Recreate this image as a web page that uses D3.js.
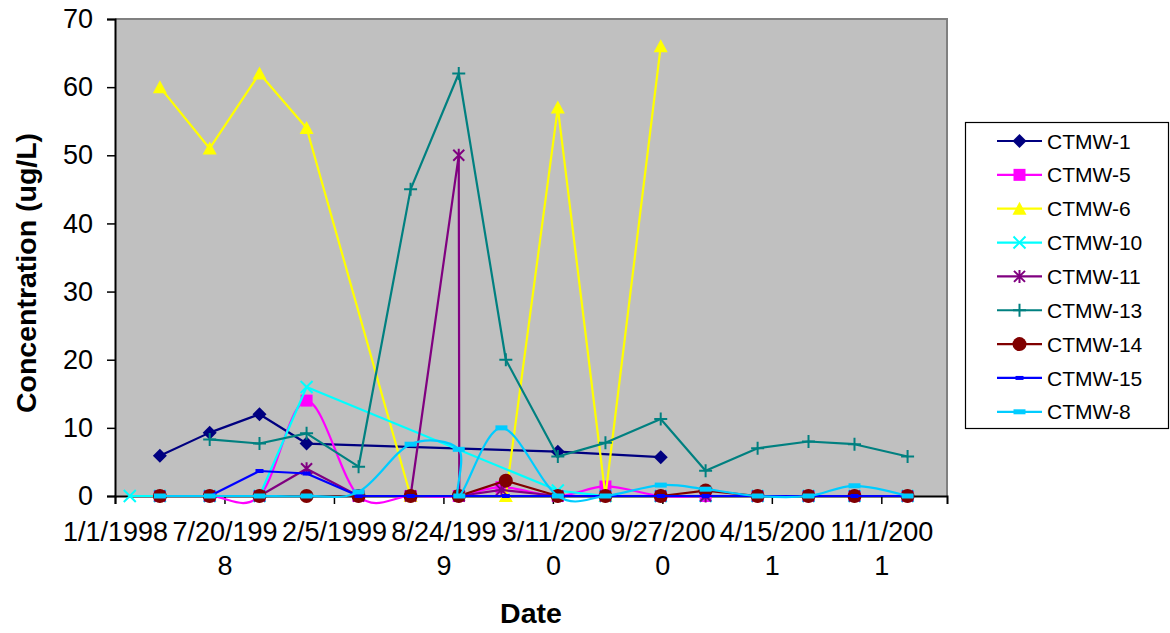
<!DOCTYPE html>
<html><head><meta charset="utf-8">
<script src="https://cdn.jsdelivr.net/npm/d3@7/dist/d3.min.js"></script>
<style>
body{margin:0;background:#fff}
text{font-family:Arial,"Liberation Sans",sans-serif;fill:#000}
</style>
</head><body>
<svg id="chart" width="1170" height="633"></svg>
<script>
// ---------------- data ----------------
const sampleDates = ["1998-01-28","1998-03-24","1998-06-23","1998-09-22","1998-12-17","1999-03-22","1999-06-25","1999-09-21","1999-09-22","1999-12-08","1999-12-16","2000-03-20","2000-06-15","2000-09-24","2000-12-15","2001-03-20","2001-06-21","2001-09-13","2001-12-19"];
const n = null;
const ctmw1  = [n, 5.9, 9.3, 12.0, 7.7, n, n, n, n, n, n, 6.5, n, 5.7, n, n, n, n, n];
const ctmw5  = [n, 0, 0, 0, 14.0, 0, 0, 0, n, 1.3, n, 0, 1.4, 0, 0, 0, 0, 0, 0];
const ctmw6  = [n, 60, 51, 62, 54, n, 0, n, n, n, 0, 57, 0, 66, n, n, n, n, n];
const ctmw10 = [0, 0, 0, 0, 16, n, n, n, n, n, n, 0.8, 0, 0, 0, 0, 0, 0, 0];
const ctmw11 = [n, 0, 0, 0, 4.0, 0, 0, 50, 0, 0.9, n, 0, 0, 0, 0, 0, 0, 0, 0];
const ctmw13 = [n, n, 8.3, 7.7, 9.2, 4.3, 45, 62, n, n, 20, 5.8, 7.8, 11.3, 3.7, 7.0, 8.0, 7.6, 5.8];
const ctmw14 = [n, 0, 0, 0, 0, 0, 0, 0, n, n, 2.25, 0, 0, 0, 0.8, 0, 0, 0, 0];
const ctmw15 = [n, 0, 0, 3.67, 3.3, 0, 0, 0, n, n, 0, 0, 0, 0, 0, 0, 0, 0, 0];
const ctmw8  = [n, 0, 0, 0, 0, 0.6, 7.6, 6.85, 0, 10, n, 0, 0, 1.6, 1.0, 0, 0, 1.5, 0];

const seriesNames  = ["CTMW-1","CTMW-5","CTMW-6","CTMW-10","CTMW-11","CTMW-13","CTMW-14","CTMW-15","CTMW-8"];
const seriesValues = [ctmw1, ctmw5, ctmw6, ctmw10, ctmw11, ctmw13, ctmw14, ctmw15, ctmw8];
const seriesColors = ["#000080","#FF00FF","#FFFF00","#00FFFF","#800080","#008080","#800000","#0000FF","#00CCFF"];
const seriesMarkers = ["diamond","square","triangle","x","asterisk","plus","circle","dashS","dashL"];
const seriesSmooth = [false,true,false,false,false,false,false,false,true];

const yTicks = [0,10,20,30,40,50,60,70];
const xTickDates = ["1998-01-01","1998-07-20","1999-02-05","1999-08-24","2000-03-11","2000-09-27","2001-04-15","2001-11-01"];
const xTickLabels = ["1/1/1998","7/20/1998","2/5/1999","8/24/1999","3/11/2000","9/27/2000","4/15/2001","11/1/2001"];
const xDomain = ["1998-01-01","2002-03-01"];

// ---------------- layout ----------------
const P = {left:115, right:947, top:19, bottom:496};
const parse = d3.utcParse("%Y-%m-%d");
const x = d3.scaleUtc().domain(xDomain.map(parse)).range([P.left, P.right]);
const y = d3.scaleLinear().domain([0,70]).range([P.bottom, P.top]);

const svg = d3.select("#chart");

// plot background
svg.append("rect").attr("x",P.left).attr("y",P.top)
  .attr("width",P.right-P.left).attr("height",P.bottom-P.top)
  .attr("fill","#C0C0C0");
// top & right border (gray)
svg.append("path").attr("d",`M${P.left},${P.top}H${P.right}V${P.bottom}`)
  .attr("fill","none").attr("stroke","#808080").attr("stroke-width",2);

// y axis
const yAxis = d3.axisLeft(y).tickValues(yTicks).tickSize(8).tickPadding(14).tickFormat(d3.format("d"));
const gy = svg.append("g").attr("transform",`translate(${P.left},0)`).call(yAxis);
gy.select(".domain").attr("stroke","#000").attr("stroke-width",2);
gy.selectAll(".tick line").attr("stroke","#000").attr("stroke-width",1.5);
gy.selectAll(".tick text").attr("font-size",27).attr("font-family","Arial, 'Liberation Sans', sans-serif").attr("fill","#000");

// x axis
const xAxis = d3.axisBottom(x).tickValues(xTickDates.map(parse)).tickSize(8).tickFormat((d,i)=>xTickLabels[i]);
const gx = svg.append("g").attr("transform",`translate(0,${P.bottom})`).call(xAxis);
gx.select(".domain").attr("stroke","#000").attr("stroke-width",2);
gx.selectAll(".tick line").attr("stroke","#000").attr("stroke-width",1.5);
const maxW = 110;
gx.selectAll(".tick text").each(function(d,i){
  const t = d3.select(this);
  const full = xTickLabels[i];
  t.text(null).attr("font-size",27).attr("font-family","Arial, 'Liberation Sans', sans-serif").attr("fill","#000").attr("y",0).attr("dy",null);
  const l1 = t.append("tspan").attr("x",0).attr("y",45).text(full);
  let cut = full.length;
  while (this.getComputedTextLength() > maxW && cut > 1) { cut--; l1.text(full.slice(0,cut)); }
  if (cut < full.length) t.append("tspan").attr("x",0).attr("y",79).text(full.slice(cut));
});

// axis titles
svg.append("text").attr("transform","translate(36,273) rotate(-90)")
  .attr("text-anchor","middle").attr("font-size",28.5).attr("font-weight","bold")
  .text("Concentration (ug/L)");
svg.append("text").attr("x",(P.left+P.right)/2).attr("y",623)
  .attr("text-anchor","middle").attr("font-size",28.5).attr("font-weight","bold")
  .text("Date");

// markers
function markerPath(type){
  switch(type){
    case "diamond": return "M0,-7L7,0L0,7L-7,0Z";
    case "square": return "M-6,-6h12v12h-12Z";
    case "triangle": return "M0,-7L7,6L-7,6Z";
    case "x": return "M-6,-6L6,6M-6,6L6,-6";
    case "asterisk": return "M-5.5,-5.5L5.5,5.5M-5.5,5.5L5.5,-5.5M0,-6.5V6.5";
    case "plus": return "M-6.5,0H6.5M0,-6.5V6.5";
    case "circle": return d3.symbol(d3.symbolCircle, Math.PI*7*7)();
    case "dashS": return "M-4,-2h8v4h-8Z";
    case "dashL": return "M-6,-2.5h12v5h-12Z";
  }
}
const strokeMarkers = new Set(["x","asterisk","plus"]);
function drawMarker(g, type, color, cx, cy){
  const p = g.append("path").attr("d",markerPath(type)).attr("transform",`translate(${cx},${cy})`);
  if (strokeMarkers.has(type)) p.attr("fill","none").attr("stroke",color).attr("stroke-width",2);
  else p.attr("fill",color).attr("stroke","none");
}

const dates = sampleDates.map(parse);
seriesValues.forEach((vals,si)=>{
  const pts = vals.map((v,i)=>({d:dates[i], v})).filter(p=>p.v!==null);
  const line = d3.line().x(p=>x(p.d)).y(p=>y(p.v))
    .curve(seriesSmooth[si] ? d3.curveCardinal.tension(0) : d3.curveLinear);
  const g = svg.append("g");
  g.append("path").attr("d",line(pts)).attr("fill","none")
    .attr("stroke",seriesColors[si]).attr("stroke-width",2.2).attr("stroke-linejoin","round");
  pts.forEach(p=>drawMarker(g, seriesMarkers[si], seriesColors[si], x(p.d), y(p.v)));
});

// legend
const L = {x:965, y:122, w:203, h:306, row0:141, step:33.85};
svg.append("rect").attr("x",L.x+0.5).attr("y",L.y+0.5).attr("width",L.w).attr("height",L.h)
  .attr("fill","#fff").attr("stroke","#000").attr("stroke-width",1.2);
seriesNames.forEach((name,i)=>{
  const cy = L.row0 + i*L.step;
  const g = svg.append("g");
  g.append("line").attr("x1",997).attr("x2",1042).attr("y1",cy).attr("y2",cy)
    .attr("stroke",seriesColors[i]).attr("stroke-width",2.2);
  drawMarker(g, seriesMarkers[i], seriesColors[i], 1019.5, cy);
  g.append("text").attr("x",1047).attr("y",cy).attr("dy","0.36em")
    .attr("font-size",21).text(name);
});
</script>
</body></html>
